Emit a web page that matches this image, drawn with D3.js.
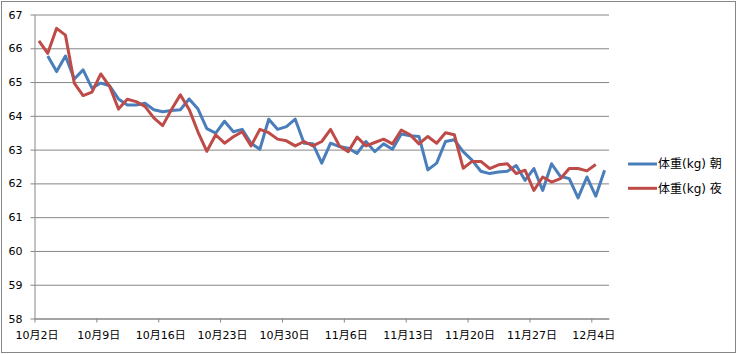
<!DOCTYPE html>
<html>
<head>
<meta charset="utf-8">
<script src="https://cdn.jsdelivr.net/npm/d3@7"></script>
<style>
  body { margin: 0; background: #fff; }
  text { font-family: "DejaVu Sans", "Noto Sans CJK JP", sans-serif; fill: #000; }
  .eixo path, .eixo line { stroke: #868686; }
  #grade line { stroke: #868686; }
  #grade path { display: none; }
</style>
</head>
<body>
<svg id="grafico"></svg>
<script>
// 日付: 10月2日 〜 12月5日 (毎日)
const inicio = new Date(Date.UTC(2016, 9, 2));
const fim = new Date(Date.UTC(2016, 11, 6));
const dias = d3.utcDay.range(inicio, fim);

// 目盛り
const ticksY = [58, 59, 60, 61, 62, 63, 64, 65, 66, 67];
const ticksX = ['2016-10-02', '2016-10-09', '2016-10-16', '2016-10-23', '2016-10-30',
  '2016-11-06', '2016-11-13', '2016-11-20', '2016-11-27', '2016-12-04'].map(s => new Date(s + 'T00:00:00Z'));

// 体重(kg) 朝
const asa = [null, 65.77, 65.31, 65.77, 65.09, 65.36, 64.82, 64.97, 64.89, 64.5,
  64.32, 64.32, 64.37, 64.18, 64.12, 64.16, 64.18, 64.5, 64.2, 63.62,
  63.49, 63.84, 63.53, 63.6, 63.19, 63.01, 63.9, 63.6, 63.68, 63.9,
  63.19, 63.17, 62.6, 63.19, 63.09, 63.04, 62.89, 63.24, 62.94, 63.17,
  63.01, 63.46, 63.41, 63.39, 62.4, 62.6, 63.24, 63.29, 62.94, 62.69,
  62.36, 62.29, 62.34, 62.36, 62.53, 62.09, 62.44, 61.79, 62.58, 62.21,
  62.14, 61.57, 62.19, 61.62, 62.39];

// 体重(kg) 夜
const yoru = [66.22, 65.85, 66.59, 66.39, 64.97, 64.6, 64.7, 65.24, 64.87, 64.2,
  64.49, 64.42, 64.28, 63.94, 63.71, 64.19, 64.62, 64.19, 63.52, 62.95,
  63.44, 63.19, 63.38, 63.53, 63.11, 63.6, 63.5, 63.31, 63.26, 63.11,
  63.24, 63.11, 63.24, 63.6, 63.11, 62.94, 63.37, 63.11, 63.21, 63.31,
  63.17, 63.58, 63.44, 63.17, 63.39, 63.19, 63.5, 63.44, 62.45, 62.65,
  62.65, 62.44, 62.55, 62.58, 62.29, 62.39, 61.79, 62.19, 62.04, 62.14,
  62.44, 62.44, 62.37, 62.56, null];

const series = [
  { nome: '体重(kg) 朝', valores: asa, cor: '#4a7ebb' },
  { nome: '体重(kg) 夜', valores: yoru, cor: '#be4b48' }
];

const largura = 741, altura = 354;
const svg = d3.select('#grafico').attr('width', largura).attr('height', altura);

svg.append('rect')
  .attr('x', 1.5).attr('y', 1.5)
  .attr('width', 734).attr('height', 351)
  .attr('fill', '#fff').attr('stroke', '#868686');

const esquerda = 34.5, direita = 609, superior = 14.5, inferior = 318.5;

const x = d3.scaleUtc().domain([inicio, fim]).range([esquerda, direita]);
const y = d3.scaleLinear().domain([58, 67]).range([inferior, superior]);

const grade = d3.axisRight(y).tickValues(ticksY).tickSize(direita - esquerda).tickFormat('');
svg.append('g').attr('id', 'grade')
  .attr('transform', `translate(${esquerda}, 0)`)
  .call(grade);

svg.append('g').attr('class', 'eixo')
  .attr('transform', `translate(${esquerda}, 0)`)
  .call(d3.axisLeft(y).tickValues(ticksY).tickSizeInner(4).tickSizeOuter(0).tickPadding(8))
  .call(g => g.selectAll('text').style('font-size', '11px'));

svg.append('g').attr('class', 'eixo')
  .attr('transform', `translate(0, ${inferior})`)
  .call(d3.axisBottom(x).tickValues(ticksX).tickSizeInner(4).tickSizeOuter(0).tickPadding(9)
    .tickFormat(d => `${d.getUTCMonth() + 1}月${d.getUTCDate()}日`))
  .call(g => g.selectAll('text').style('font-size', '11px').attr('dx', 2));

// 各点は日の中央
const linha = d3.line()
  .defined(d => d.v != null)
  .x(d => x(d3.utcHour.offset(d.dia, 12)))
  .y(d => y(d.v));

series.forEach(s => {
  const pontos = dias.map((dia, i) => ({ dia: dia, v: s.valores[i] }));
  svg.append('path')
    .datum(pontos)
    .attr('fill', 'none')
    .attr('stroke', s.cor)
    .attr('stroke-width', 3)
    .attr('stroke-linejoin', 'round')
    .attr('d', linha);
});

// 凡例
const legenda = svg.append('g').attr('transform', 'translate(628, 164)');
series.forEach((s, i) => {
  const item = legenda.append('g').attr('transform', `translate(0, ${i * 24.3})`);
  item.append('line')
    .attr('x1', 0).attr('x2', 29)
    .attr('stroke', s.cor).attr('stroke-width', 3);
  item.append('text')
    .attr('x', 30).attr('dy', '0.35em')
    .style('font-size', '12px')
    .text(s.nome);
});
</script>
</body>
</html>
